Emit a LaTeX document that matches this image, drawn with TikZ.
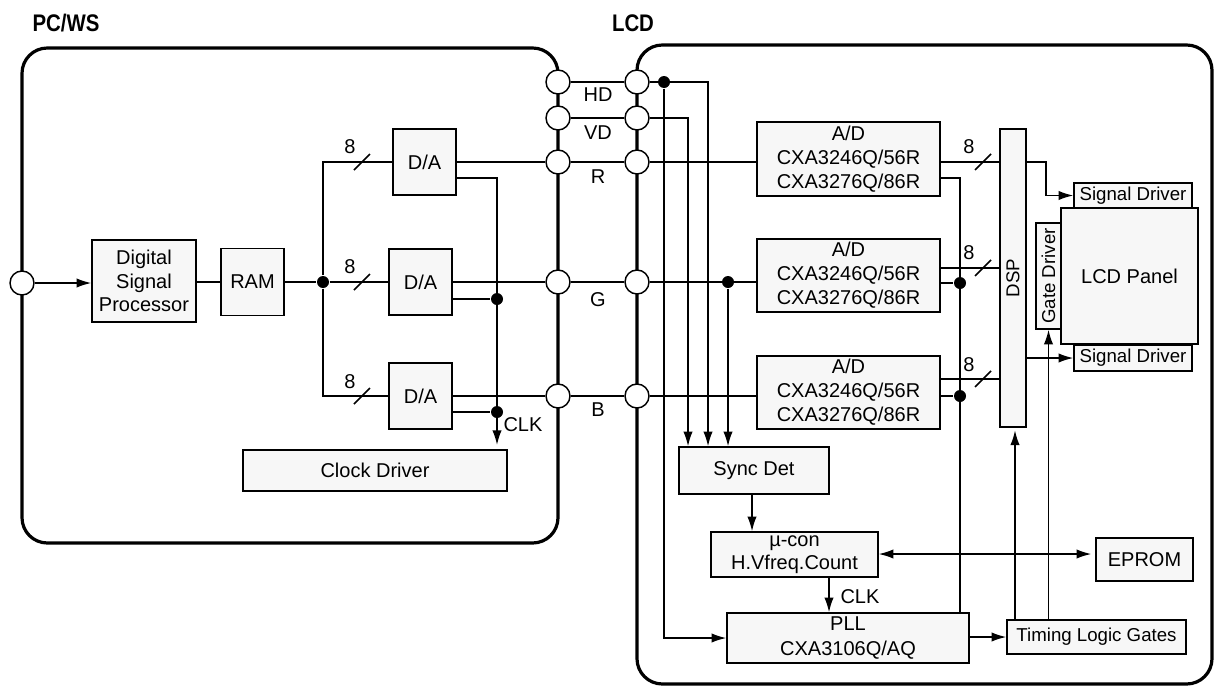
\documentclass[tikz,border=0pt]{standalone}
\usepackage{fontspec}
\setmainfont{Liberation Sans}
\usetikzlibrary{arrows.meta,backgrounds}
\newcommand\fmain{\fontsize{15}{17.5}\selectfont}
\newcommand\fsmall{\fontsize{14}{16}\selectfont}
\begin{document}
\begin{tikzpicture}[x=0.75pt,y=-0.75pt,
  every path/.style={line width=1.1pt},
  wh/.style 2 args={minimum width=#1*0.75pt, minimum height=#2*0.75pt},
  bx/.style={draw, fill=black!3, line width=1.1pt, inner sep=0pt, align=center, font=\fmain},
  sbx/.style={bx, font=\fsmall},
  port/.style={circle, draw, fill=white, minimum size=18pt, inner sep=0pt, line width=1.1pt},
  dot/.style={circle, fill=black, minimum size=9pt, inner sep=0pt},
  outer/.style={line width=2.4pt, rounded corners=19pt},
  arr/.style={-{Latex[length=11pt,width=7pt]}},
  arrb/.style={{Latex[length=11pt,width=7pt]}-{Latex[length=11pt,width=7pt]}},
  lbl/.style={font=\fmain, inner sep=0pt},
  ttl/.style={font=\fontsize{18}{20}\selectfont\bfseries, inner sep=0pt}]
\useasboundingbox (0,0) rectangle (1215,686);

% titles
\node[ttl] (tpc) at (66,23) {\scalebox{0.85}[1]{PC/WS}};
\node[ttl] (tlcd) at (633,23) {\scalebox{0.85}[1]{LCD}};

% ports
\node[port] (in) at (22,283) {};
\node[port] (lHD) at (558,82) {};
\node[port] (lVD) at (558,118) {};
\node[port] (lR) at (558,162) {};
\node[port] (lG) at (558,282) {};
\node[port] (lB) at (558,396) {};
\node[port] (rHD) at (637,82) {};
\node[port] (rVD) at (637,118) {};
\node[port] (rR) at (637,162) {};
\node[port] (rG) at (637,282) {};
\node[port] (rB) at (637,396) {};

% PC/WS blocks
\node[bx, wh={104}{82}] (proc) at (144,281) {Digital\\Signal\\Processor};
\node[bx, wh={63}{67}] (ram) at (252.5,282) {RAM};
\node[bx, wh={63}{66}] (da1) at (424.5,162) {D/A};
\node[bx, wh={63}{66}] (da2) at (420.5,282) {D/A};
\node[bx, wh={63}{66}] (da3) at (420.5,396) {D/A};
\node[bx, wh={264}{41}] (clkdrv) at (375,470.5) {Clock Driver};

% LCD blocks
\node[bx, wh={183}{74}, font=\fontsize{15}{18}\selectfont] (ad1) at (848.5,159) {A/D\\CXA3246Q/56R\\CXA3276Q/86R};
\node[bx, wh={183}{73}, font=\fontsize{15}{18}\selectfont] (ad2) at (848.5,275.5) {A/D\\CXA3246Q/56R\\CXA3276Q/86R};
\node[bx, wh={183}{73}, font=\fontsize{15}{18}\selectfont] (ad3) at (848.5,392.5) {A/D\\CXA3246Q/56R\\CXA3276Q/86R};
\node[sbx, wh={26}{298}] (dsp) at (1013,278) {\rotatebox{90}{DSP}};
\node[sbx, wh={118}{25}] (sig1) at (1133,195.5) {Signal Driver};
\node[bx, wh={137}{136}] (panel) at (1129.5,276) {LCD Panel};
\node[sbx, wh={25}{106}] (gate) at (1048.5,276) {\rotatebox{90}{Gate Driver}};
\node[sbx, wh={118}{26}] (sig2) at (1133,358) {Signal Driver};
\node[bx, wh={150}{47}] (sync) at (754,470.5) {Sync Det};
\node[bx, wh={167}{45}, font=\fontsize{15}{17.25}\selectfont] (mucon) at (794.5,554.5) {µ-con\\H.Vfreq.Count};
\node[bx, wh={242}{50}, font=\fontsize{15}{18.75}\selectfont] (pll) at (848,638) {PLL\\CXA3106Q/AQ};
\node[sbx, wh={179}{34}] (timing) at (1096.5,637) {Timing Logic Gates};
\node[bx, wh={97}{43}] (eprom) at (1144.5,559.5) {EPROM};

% junction dots
\node[dot] (j1) at (323,282) {};
\node[dot] (dA2) at (497,299) {};
\node[dot] (dA3) at (497,412) {};
\node[dot] (jHD) at (664,82) {};
\node[dot] (jG) at (728,282) {};
\node[dot] (jA2) at (960,283) {};
\node[dot] (jA3) at (960,396) {};
\coordinate (clkA) at (497,445);

% labels
\node[lbl] (lbHD) at (598,95) {HD};
\node[lbl] (lbVD) at (598,133) {VD};
\node[lbl] (lbR) at (598,177) {R};
\node[lbl] (lbG) at (598,300) {G};
\node[lbl] (lbB) at (598,410) {B};
\node[lbl] (n1) at (350,147) {8};
\node[lbl] (n2) at (350,267) {8};
\node[lbl] (n3) at (350,382) {8};
\node[lbl] (n4) at (969,147) {8};
\node[lbl] (n5) at (969,253) {8};
\node[lbl] (n6) at (969,365) {8};
\node[lbl] (clk1) at (523,425) {CLK};
\node[lbl] (clk2) at (860,597) {CLK};

\begin{pgfonlayer}{background}
% outer frames
\draw[outer] (22,48) rectangle (558,543);
\draw[outer] (637,45) rectangle (1212,684);

% PC/WS connectors
\draw[arr] (in) -- (in -| proc.west);
\draw (proc.east |- ram) -- (ram.west);
\draw (ram) -- (j1);
\draw (j1) |- (da1.west);
\draw (j1) -- (da2.west);
\draw (j1) |- (da3.west);
\draw (da1.east) -- (lR);
\draw (da2.east) -- (lG);
\draw (da3.east) -- (lB);
\draw[arr] (da1.east |- 0,178) -| (clkA);
\draw (da2.east |- dA2) -- (dA2);
\draw (da3.east |- dA3) -- (dA3);
\foreach \yy in {162,282,396} \draw (354,\yy+8) -- (370,\yy-8);

% interface
\draw (lHD) -- (rHD);
\draw (lVD) -- (rVD);
\draw (lR) -- (rR);
\draw (lG) -- (rG);
\draw (lB) -- (rB);

% LCD connectors
\draw[arr] (rHD) -| (sync.north -| 708,0);
\draw[arr] (jHD) |- (pll.west);
\draw[arr] (rVD) -| (sync.north -| 688,0);
\draw (rR) -- (rR -| ad1.west);
\draw (rG) -- (rG -| ad2.west);
\draw[arr] (jG) -- (sync.north -| jG);
\draw (rB) -- (rB -| ad3.west);
\draw (ad1.east |- 0,162) -- (dsp.west |- 0,162);
\draw (ad2.east |- 0,268) -- (dsp.west |- 0,268);
\draw (ad3.east |- 0,379) -- (dsp.west |- 0,379);
\foreach \yy in {162,268,379} \draw (975,\yy+8) -- (991,\yy-8);
\draw (ad1.east |- 0,178) -| (pll.north -| 960,0);
\draw (ad2.east |- jA2) -- (jA2);
\draw (ad3.east |- jA3) -- (jA3);
\draw[arr] (dsp.east |- 0,162) -- (1046,162) |- (sig1.west);
\draw[arr] (dsp.east |- sig2.west) -- (sig2.west);
\draw[arr] (sync.south -| 752,0) -- (mucon.north -| 752,0);
\draw[arr] (mucon.south -| 829,0) -- (pll.north -| 829,0);
\draw[arrb, shorten >=3pt] (mucon.east |- 0,554) -- (eprom.west |- 0,554);
\draw[arr] (pll.east |- timing) -- (timing.west);
\draw[arr, shorten >=2pt] (timing.north -| 1015,0) -- (dsp.south -| 1015,0);
\draw[arr] (timing.north -| gate) -- (gate.south);
\end{pgfonlayer}
\end{tikzpicture}
\end{document}
